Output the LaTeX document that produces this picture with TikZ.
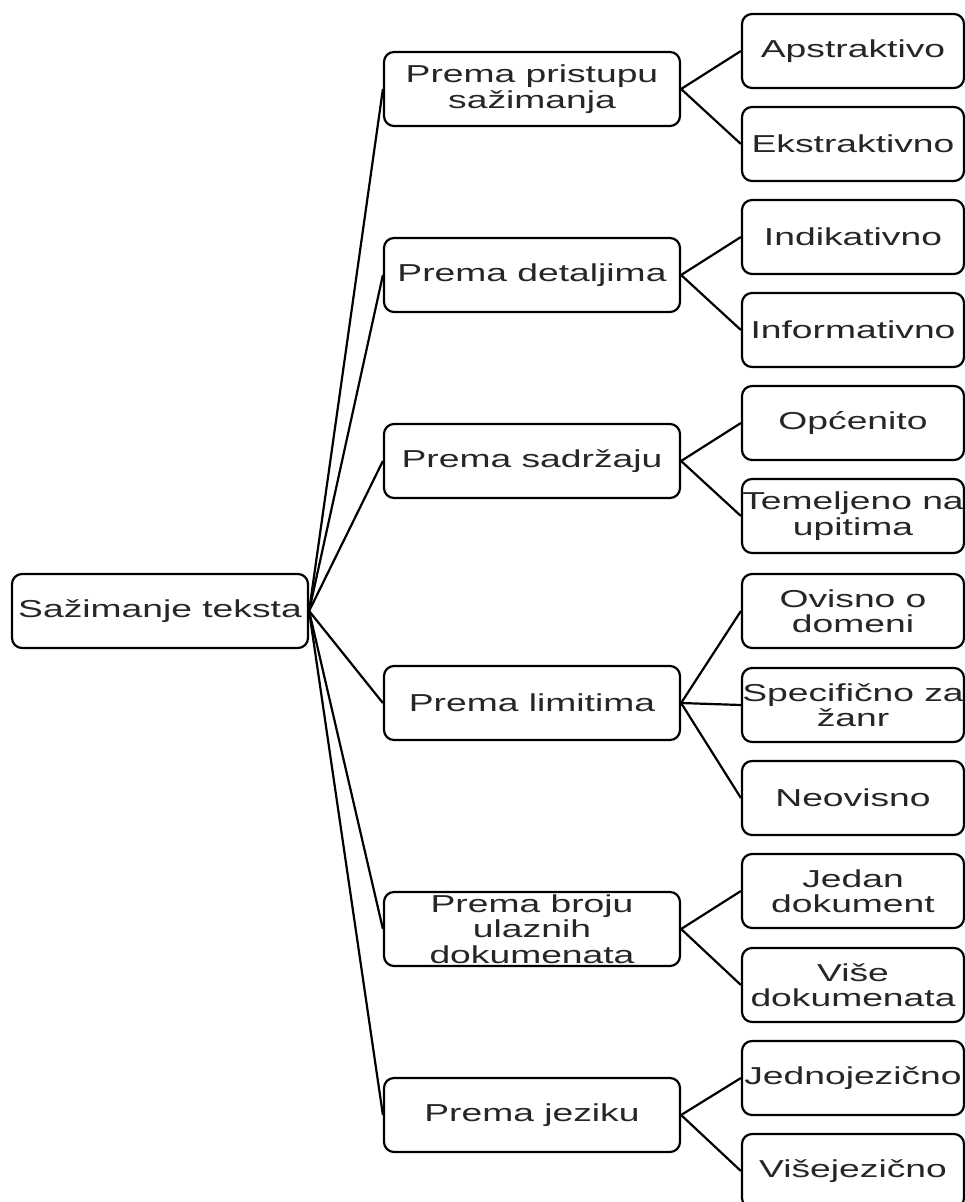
\documentclass[tikz,border=0pt]{standalone}
\usepackage{fontspec}
\setmainfont[FakeStretch=1.52]{Liberation Sans}
\begin{document}
\begin{tikzpicture}[x=1pt,y=-1pt,
  box/.style={draw=black, line width=2.2pt, rounded corners=10pt, fill=white,
    minimum width=#1, minimum height=74pt, inner sep=0pt, align=center,
    font=\fontsize{24.5}{25.5}\selectfont, text=black!85},
  box/.default=296pt,
  leaf/.style={box=222pt},
  conn/.style={draw=black, line width=2.2pt}]
\useasboundingbox (0,0) rectangle (965,1202);
% connectors first (boxes drawn above)
\coordinate (dummy) at (0,0);
% root
\node[box] (root) at (160,611) {Sažimanje teksta};
% middle level
\node[box] (m1) at (532,89) {Prema pristupu\\sažimanja};
\node[box] (m2) at (532,275) {Prema detaljima};
\node[box] (m3) at (532,461) {Prema sadržaju};
\node[box] (m4) at (532,703) {Prema limitima};
\node[box] (m5) at (532,929) {Prema broju\\ulaznih\\dokumenata};
\node[box] (m6) at (532,1115) {Prema jeziku};
% leaves
\node[leaf] (l1) at (853,51) {Apstraktivo};
\node[leaf] (l2) at (853,144) {Ekstraktivno};
\node[leaf] (l3) at (853,237) {Indikativno};
\node[leaf] (l4) at (853,330) {Informativno};
\node[leaf] (l5) at (853,423) {Općenito};
\node[leaf] (l6) at (853,516) {Temeljeno na\\upitima};
\node[leaf] (l7) at (853,611) {Ovisno o\\domeni};
\node[leaf] (l8) at (853,705) {Specifično za\\žanr};
\node[leaf] (l9) at (853,798) {Neovisno};
\node[leaf] (l10) at (853,891) {Jedan\\dokument};
\node[leaf] (l11) at (853,985) {Više\\dokumenata};
\node[leaf] (l12) at (853,1078) {Jednojezično};
\node[leaf] (l13) at (853,1171) {Višejezično};
% connectors
\foreach \m in {m1,m2,m3,m4,m5,m6}
  \draw[conn] (root.east) -- (\m.west);
\draw[conn] (m1.east) -- (l1.west);
\draw[conn] (m1.east) -- (l2.west);
\draw[conn] (m2.east) -- (l3.west);
\draw[conn] (m2.east) -- (l4.west);
\draw[conn] (m3.east) -- (l5.west);
\draw[conn] (m3.east) -- (l6.west);
\draw[conn] (m4.east) -- (l7.west);
\draw[conn] (m4.east) -- (l8.west);
\draw[conn] (m4.east) -- (l9.west);
\draw[conn] (m5.east) -- (l10.west);
\draw[conn] (m5.east) -- (l11.west);
\draw[conn] (m6.east) -- (l12.west);
\draw[conn] (m6.east) -- (l13.west);
\end{tikzpicture}
\end{document}
